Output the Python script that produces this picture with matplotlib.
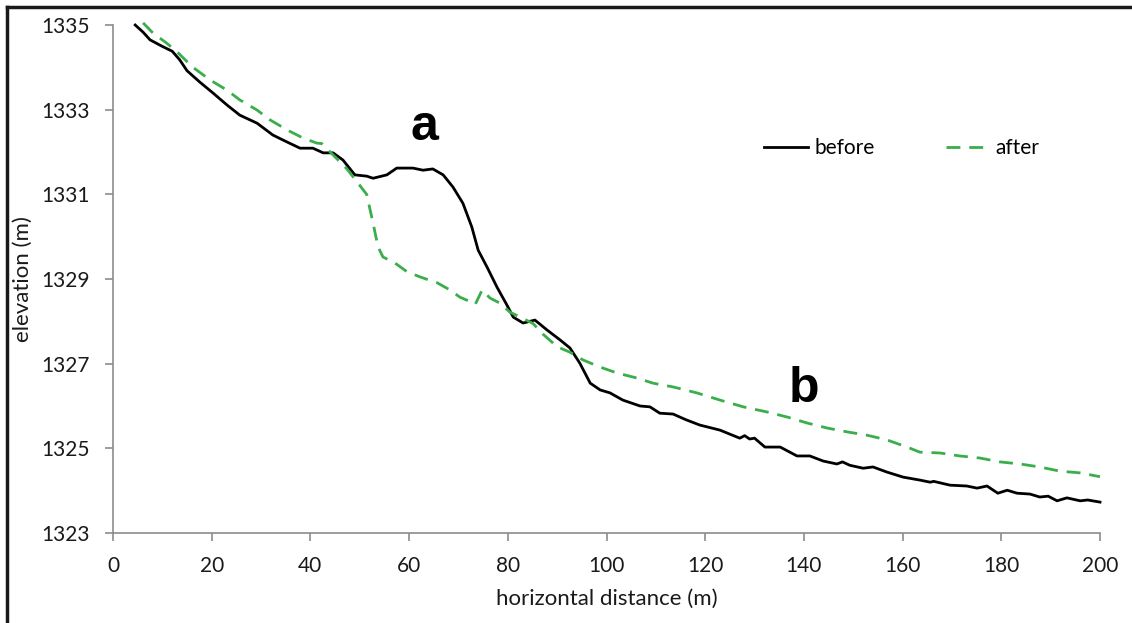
import matplotlib
matplotlib.use("Agg")
import matplotlib.pyplot as plt
from matplotlib.lines import Line2D

# ---- data ----
before_x = [4.5, 6.1, 7.5, 9.9, 12.0, 13.5, 15.0, 17.6, 20.3, 23.1, 25.7, 29.2, 32.4, 35.2,
            37.9, 40.5, 42.6, 44.6, 46.6, 49.0, 51.4, 52.7, 55.5, 57.5, 60.8, 62.8, 64.8,
            66.9, 68.9, 70.9, 72.7, 74.0, 75.8, 77.8, 79.8, 81.1, 83.1, 85.5, 87.9, 90.6,
            92.6, 94.6, 96.7, 98.7, 100.7, 103.3, 106.8, 108.8, 110.8, 113.5, 116.0, 118.9,
            123.0, 127.0, 128.0, 129.0, 130.0, 132.1, 135.2, 138.6, 141.2, 143.9, 146.7,
            147.8, 149.3, 152.0, 154.0, 156.8, 160.1, 163.5, 165.6, 166.3, 169.6, 173.0,
            175.1, 177.1, 179.3, 181.2, 183.2, 185.8, 187.8, 189.5, 191.3, 193.3, 196.0,
            197.5, 200.0]
before_y = [1335.0, 1334.83, 1334.65, 1334.50, 1334.38, 1334.18, 1333.92, 1333.65, 1333.39,
            1333.11, 1332.87, 1332.68, 1332.40, 1332.24, 1332.09, 1332.09, 1331.98, 1331.98,
            1331.81, 1331.46, 1331.43, 1331.38, 1331.46, 1331.62, 1331.62, 1331.57, 1331.60,
            1331.46, 1331.17, 1330.79, 1330.23, 1329.68, 1329.28, 1328.81, 1328.39, 1328.10,
            1327.96, 1328.03, 1327.80, 1327.56, 1327.37, 1327.01, 1326.54, 1326.38, 1326.31,
            1326.14, 1326.00, 1325.98, 1325.83, 1325.81, 1325.68, 1325.55, 1325.43, 1325.24,
            1325.30, 1325.22, 1325.24, 1325.03, 1325.03, 1324.82, 1324.82, 1324.70, 1324.63,
            1324.68, 1324.60, 1324.53, 1324.56, 1324.44, 1324.32, 1324.25, 1324.20, 1324.22,
            1324.13, 1324.11, 1324.06, 1324.11, 1323.94, 1324.01, 1323.94, 1323.92, 1323.85,
            1323.87, 1323.76, 1323.83, 1323.76, 1323.78, 1323.73]

after_x = [6.1, 8.1, 10.9, 13.2, 16.2, 19.7, 23.1, 25.7, 29.2, 31.8, 35.3, 38.5, 41.3, 42.3,
           44.6, 47.4, 49.4, 51.4, 52.7, 53.7, 54.7, 57.1, 59.6, 62.2, 65.7, 68.3, 70.3, 71.7,
           73.4, 74.8, 76.4, 78.4, 80.4, 82.5, 85.1, 87.1, 90.0, 92.6, 95.2, 98.7, 102.1,
           106.2, 109.4, 113.5, 118.3, 123.0, 127.7, 132.5, 136.6, 140.6, 144.7, 148.7,
           152.8, 156.8, 160.9, 163.5, 167.6, 171.6, 175.7, 179.7, 183.8, 187.8, 191.9,
           196.0, 200.0]
after_y = [1335.05, 1334.81, 1334.57, 1334.34, 1334.00, 1333.70, 1333.46, 1333.23, 1332.99,
           1332.76, 1332.52, 1332.33, 1332.21, 1332.20, 1331.93, 1331.60, 1331.30, 1331.00,
           1330.32, 1329.76, 1329.52, 1329.38, 1329.17, 1329.05, 1328.91, 1328.74, 1328.57,
           1328.50, 1328.40, 1328.74, 1328.55, 1328.43, 1328.22, 1328.10, 1327.95, 1327.70,
           1327.40, 1327.27, 1327.09, 1326.92, 1326.78, 1326.66, 1326.54, 1326.45, 1326.31,
           1326.14, 1325.98, 1325.86, 1325.74, 1325.60, 1325.48, 1325.39, 1325.31, 1325.20,
           1325.03, 1324.91, 1324.89, 1324.82, 1324.77, 1324.68, 1324.63, 1324.56, 1324.46,
           1324.42, 1324.33]

x_ticks = [0, 20, 40, 60, 80, 100, 120, 140, 160, 180, 200]
y_ticks = [1323, 1325, 1327, 1329, 1331, 1333, 1335]
labels = ["before", "after"]

plt.rcParams['font.family'] = ['Lato', 'DejaVu Sans']

W, H = 1132, 623
fig = plt.figure(figsize=(W / 100, H / 100), dpi=100)
ax = fig.add_axes([113 / W, 1 - 533 / H, (1100 - 113) / W, (533 - 25) / H])

ax.plot(before_x, before_y, color='black', lw=2.0, label=labels[0], clip_on=False)
ax.plot(after_x, after_y, color='#3AAE4A', lw=2.0, dashes=(5, 3.2), label=labels[1], clip_on=False)

ax.set_xlim(0, 200)
ax.set_ylim(1323, 1335)
ax.set_xticks(x_ticks)
ax.set_yticks(y_ticks)
for s in ['top', 'right']:
    ax.spines[s].set_visible(False)
for s in ['left', 'bottom']:
    ax.spines[s].set_color('#8c8c8c')
    ax.spines[s].set_linewidth(1.2)
ax.tick_params(axis='both', direction='out', length=5.5, width=1.2, color='#8c8c8c',
               labelsize=15, labelcolor='#1a1a1a', pad=11)

ax.set_xlabel('horizontal distance (m)', fontsize=16, color='#1a1a1a', labelpad=9)
ax.set_ylabel('elevation (m)', fontsize=16, color='#1a1a1a', labelpad=6)

ax.text(63.2, 1332.6, 'a', fontsize=36, fontweight='bold', family='Liberation Sans',
        ha='center', va='center')
ax.text(140.0, 1326.4, 'b', fontsize=36, fontweight='bold', family='Liberation Sans',
        ha='center', va='center')

ax.legend(loc='center left', bbox_to_anchor=((768 - 113) / 987 - 0.012, 1 - (148 - 25) / 508),
          ncol=2, frameon=False, fontsize=15, handlelength=2.1, handletextpad=0.3,
          columnspacing=3.4, borderaxespad=0)

# figure frame (only top and left edges visible in the reference)
fig.add_artist(Line2D([6.5 / W, 1.02], [1 - 6.5 / H, 1 - 6.5 / H], transform=fig.transFigure,
                      color='#1a1a1a', lw=2.5))
fig.add_artist(Line2D([6.5 / W, 6.5 / W], [-0.02, 1 - 6.5 / H], transform=fig.transFigure,
                      color='#1a1a1a', lw=2.5))

fig.savefig('out.png', dpi=100)
